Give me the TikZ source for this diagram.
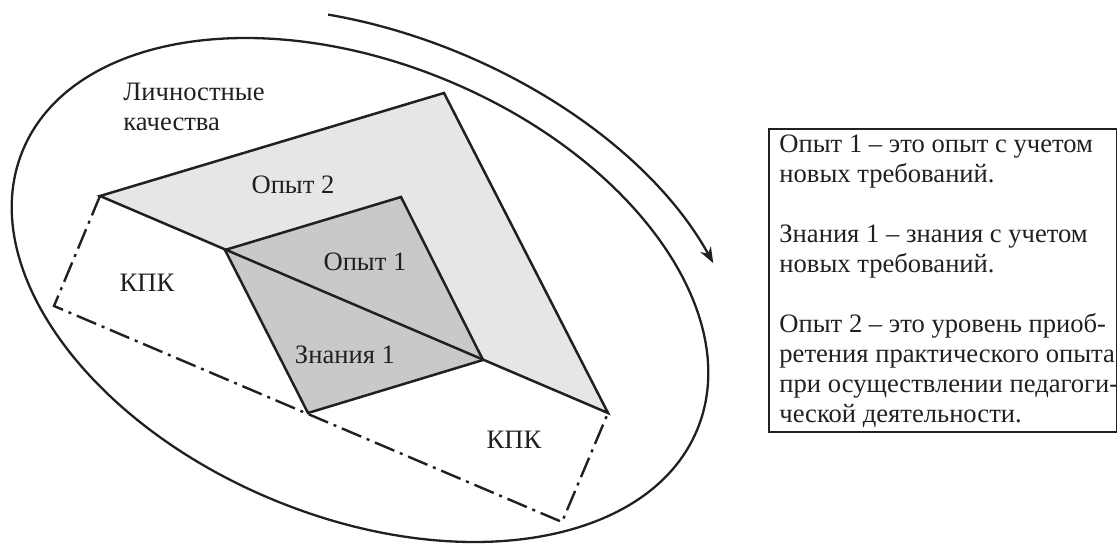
\documentclass[tikz,border=0pt]{standalone}
\usepackage{fontspec}
\setmainfont{Liberation Serif}
\usetikzlibrary{arrows.meta}
\definecolor{lightfill}{RGB}{229,230,232}
\definecolor{darkfill}{RGB}{200,201,203}
\definecolor{ink}{RGB}{35,31,32}
\begin{document}
\begin{tikzpicture}[x=0.5pt,y=-0.5pt,
  edge/.style={draw=ink,line width=1.25pt,line join=miter},
  kpkline/.style={draw=ink,line width=1.2pt,dash pattern=on 10.5pt off 3pt on 1.5pt off 3pt},
  oval/.style={draw=ink,line width=1.15pt},
  lbl/.style={text=ink,font=\fontsize{13.3}{15}\selectfont,inner sep=0pt},
  legendbox/.style={draw=ink,line width=1.1pt,minimum width=174pt,minimum height=151.5pt,anchor=north west,inner sep=0pt}]
\useasboundingbox (0,0) rectangle (1117,544);
% vertices
\coordinate (A) at (100,196);
\coordinate (T) at (444,93);
\coordinate (B) at (608,413);
\coordinate (D1) at (225,250);
\coordinate (D2) at (401,197);
\coordinate (D3) at (483,360);
\coordinate (D4) at (308,413);
\coordinate (K1) at (54,306);
\coordinate (K2) at (562,522);
% fills
\fill[lightfill] (A)--(T)--(B)--cycle;
\fill[darkfill] (D1)--(D2)--(D3)--(D4)--cycle;
% outlines
\draw[edge] (A)--(T)--(B)--cycle;
\draw[edge] (D1)--(D2)--(D3)--(D4)--cycle;
\draw[kpkline] (A)--(K1)--(K2)--(B);
% ellipse and arrow
\draw[oval,shift={(360,290)},rotate=-22.5] (0,0) ellipse [x radius=182.5pt,y radius=113.5pt];
\draw[oval,-{Stealth[length=8pt,width=6pt]},shift={(360,290)},rotate=-22.5]
  (109.5:202pt and 128.5pt) arc[start angle=109.5,end angle=38.5,x radius=202pt,y radius=128.5pt];
% labels
\node[lbl,align=left,anchor=west] (lk) at (123,107) {Личностные\\качества};
\node[lbl] (o2) at (293,185) {Опыт 2};
\node[lbl] (o1) at (365,262) {Опыт 1};
\node[lbl] (z1) at (345,355) {Знания 1};
\node[lbl] (kl) at (147,283) {КПК};
\node[lbl] (kr) at (514,440) {КПК};
% legend
\node[legendbox] (legend) at (768,128) {};
\node[lbl,anchor=north west,align=left] (legtext) at ([xshift=5.5pt,yshift=-3pt]legend.north west)
{Опыт 1 – это опыт с учетом\\
новых требований.\\[15pt]
Знания 1 – знания с учетом\\
новых требований.\\[15pt]
Опыт 2 – это уровень приоб-\\
ретения практического опыта\\
при осуществлении педагоги-\\
ческой деятельности.};
\end{tikzpicture}
\end{document}
